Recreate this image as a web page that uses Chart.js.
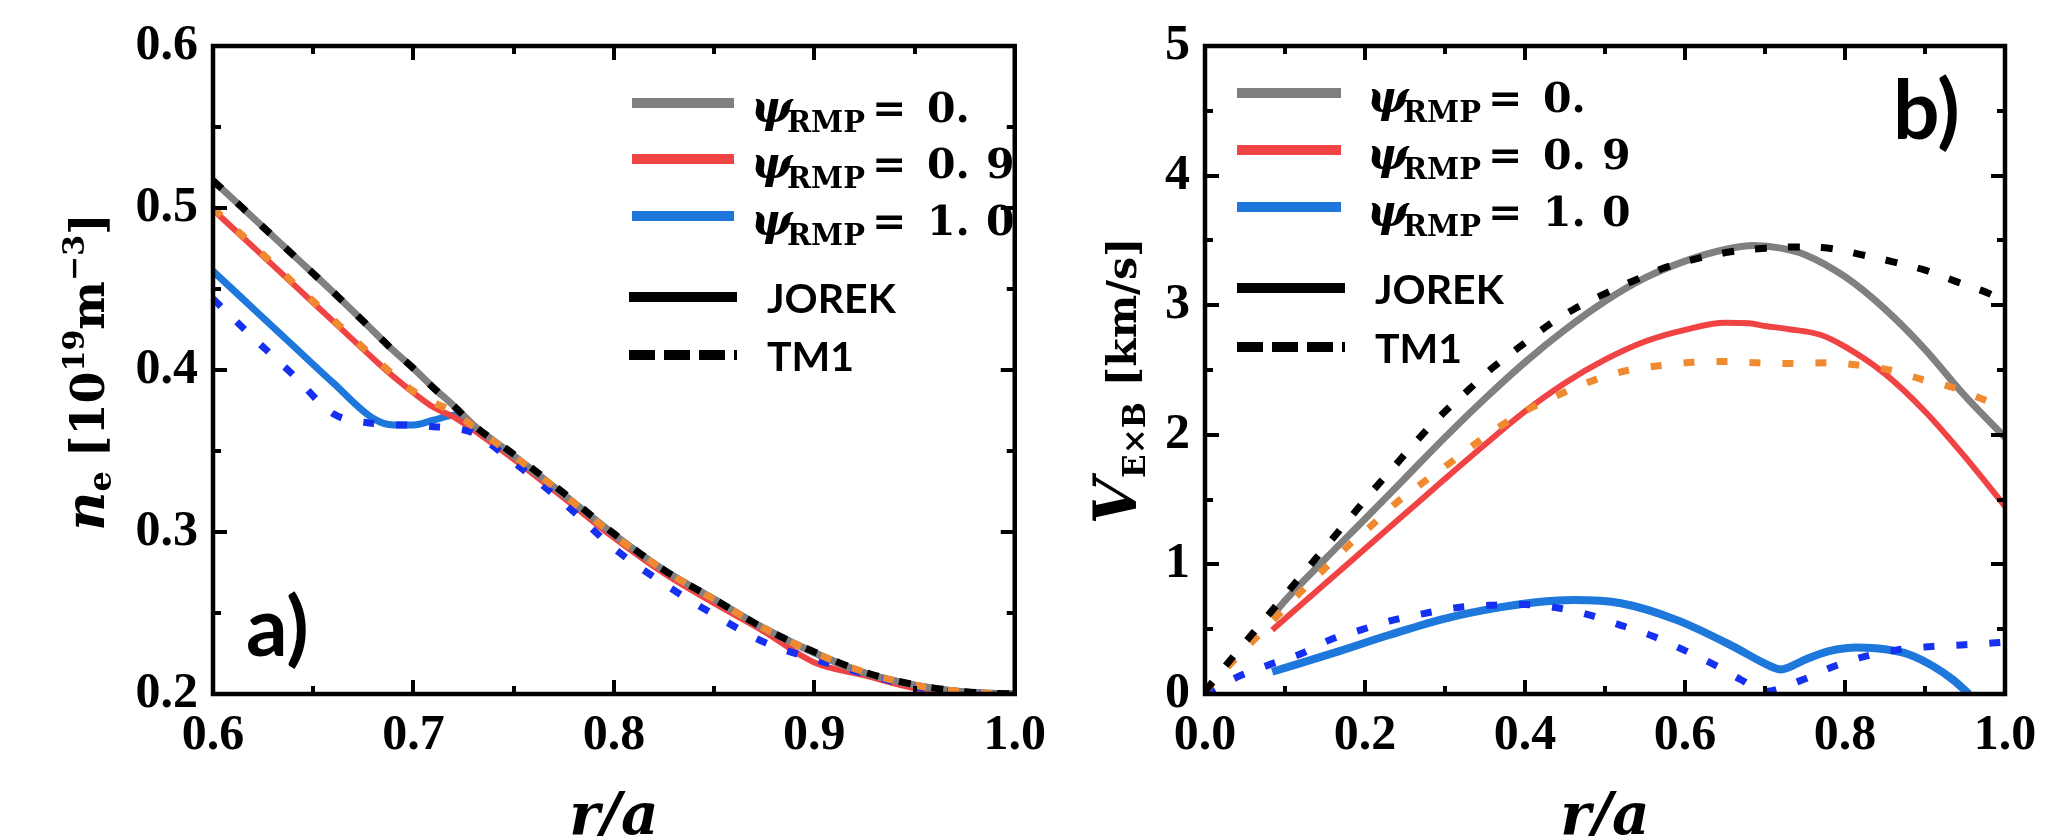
<!DOCTYPE html>
<html>
<head>
<meta charset="utf-8">
<script src="https://cdn.jsdelivr.net/npm/chart.js@4.4.1/dist/chart.umd.min.js"></script>
<style>
  html, body { margin: 0; padding: 0; background: #fff; }
  #wrap { position: relative; width: 2061px; height: 836px; overflow: hidden; background: #fff; }
  canvas { position: absolute; top: 0; }
  #cA { left: 0; width: 1050px; height: 836px; }
  #cB { left: 1050px; width: 1011px; height: 836px; }
</style>
</head>
<body>
<div id="wrap">
  <canvas id="cA" width="1050" height="836"></canvas>
  <canvas id="cB" width="1011" height="836"></canvas>
</div>
<script>
// ---------- panel a: electron density n_e vs r/a ----------
const NE_R = [0.60, 0.62, 0.64, 0.66, 0.68, 0.69, 0.70, 0.71, 0.72, 0.73, 0.75, 0.775, 0.80, 0.825, 0.85, 0.875, 0.90, 0.925, 0.95, 0.975, 1.00];
const NE_JOREK_PSI0  = [0.517, 0.494, 0.471, 0.448, 0.424, 0.412, 0.401, 0.389, 0.378, 0.366, 0.347, 0.323, 0.2985, 0.2765, 0.2585, 0.2405, 0.2255, 0.2130, 0.2055, 0.2012, 0.2000];
const NE_JOREK_PSI09 = [0.499, 0.476, 0.453, 0.430, 0.407, 0.396, 0.386, 0.377, 0.371, 0.363, 0.345, 0.321, 0.2965, 0.2745, 0.2560, 0.2385, 0.2195, 0.2115, 0.2035, 0.1995, 0.1990];
const NE_JOREK_PSI10 = [0.461, 0.438, 0.415, 0.392, 0.370, 0.366, 0.366, 0.369, 0.372, 0.365, 0.347, 0.323, 0.2985, 0.2765, 0.2585, 0.2405, 0.2255, 0.2130, 0.2055, 0.2012, 0.2000];
const NE_TM1_PSI0    = [0.517, 0.494, 0.471, 0.448, 0.424, 0.412, 0.401, 0.389, 0.378, 0.366, 0.348, 0.324, 0.2990, 0.2765, 0.2585, 0.2405, 0.2260, 0.2135, 0.2058, 0.2014, 0.2000];
const NE_TM1_PSI09   = [0.500, 0.477, 0.454, 0.431, 0.408, 0.397, 0.387, 0.380, 0.374, 0.365, 0.347, 0.323, 0.2980, 0.2765, 0.2585, 0.2405, 0.2255, 0.2135, 0.2055, 0.2012, 0.2000];
const NE_TM1_PSI10   = [0.444, 0.420, 0.397, 0.373, 0.367, 0.366, 0.366, 0.365, 0.364, 0.361, 0.343, 0.318, 0.2900, 0.2680, 0.2490, 0.2320, 0.2215, 0.2125, 0.2045, 0.2005, 0.2000];

// ---------- panel b: E x B velocity vs r/a ----------
const VB_R_JOREK_PSI0  = [0.084, 0.10, 0.15, 0.20, 0.25, 0.30, 0.35, 0.40, 0.45, 0.50, 0.55, 0.60, 0.65, 0.686, 0.72, 0.75, 0.80, 0.85, 0.90, 0.95, 1.00];
const VB_JOREK_PSI0    = [0.60, 0.72, 1.04, 1.35, 1.665, 1.98, 2.28, 2.56, 2.81, 3.03, 3.21, 3.34, 3.43, 3.46, 3.44, 3.39, 3.22, 2.97, 2.66, 2.30, 1.98];
const VB_R_JOREK_PSI09 = [0.084, 0.15, 0.20, 0.25, 0.30, 0.35, 0.40, 0.45, 0.50, 0.55, 0.60, 0.65, 0.68, 0.70, 0.73, 0.77, 0.80, 0.85, 0.90, 0.95, 1.00];
const VB_JOREK_PSI09   = [0.494, 0.85, 1.12, 1.39, 1.66, 1.925, 2.18, 2.40, 2.58, 2.72, 2.81, 2.865, 2.86, 2.84, 2.815, 2.77, 2.68, 2.47, 2.18, 1.83, 1.45];
const VB_R_JOREK_PSI10 = [0.084, 0.16, 0.23, 0.30, 0.37, 0.42, 0.46, 0.52, 0.59, 0.66, 0.70, 0.72, 0.75, 0.78, 0.815, 0.85, 0.88, 0.91, 0.935, 0.955];
const VB_JOREK_PSI10   = [0.172, 0.315, 0.455, 0.582, 0.670, 0.712, 0.725, 0.700, 0.570, 0.368, 0.235, 0.190, 0.265, 0.330, 0.358, 0.345, 0.305, 0.215, 0.110, 0.0];
const VB_R_TM1_PSI0    = [0.0, 0.03, 0.06, 0.09, 0.12, 0.15, 0.18, 0.21, 0.24, 0.27, 0.30, 0.33, 0.36, 0.40, 0.43, 0.46, 0.50, 0.54, 0.575, 0.615, 0.655, 0.70, 0.74, 0.78, 0.82, 0.86, 0.90, 0.94, 0.98, 1.00];
const VB_TM1_PSI0      = [0.02, 0.25, 0.47, 0.69, 0.91, 1.13, 1.35, 1.57, 1.78, 1.99, 2.18, 2.35, 2.52, 2.71, 2.85, 2.965, 3.09, 3.20, 3.29, 3.36, 3.41, 3.44, 3.45, 3.44, 3.39, 3.335, 3.27, 3.18, 3.09, 3.03];
const VB_R_TM1_PSI09   = [0.0, 0.03, 0.06, 0.09, 0.12, 0.15, 0.18, 0.21, 0.24, 0.27, 0.31, 0.34, 0.37, 0.41, 0.45, 0.49, 0.53, 0.57, 0.61, 0.65, 0.69, 0.73, 0.78, 0.82, 0.855, 0.895, 0.935, 0.97, 0.99];
const VB_TM1_PSI09     = [0.02, 0.22, 0.41, 0.60, 0.79, 0.97, 1.15, 1.31, 1.48, 1.62, 1.80, 1.94, 2.07, 2.215, 2.33, 2.43, 2.50, 2.535, 2.56, 2.565, 2.555, 2.55, 2.556, 2.535, 2.50, 2.43, 2.365, 2.28, 2.23];
const VB_R_TM1_PSI10   = [0.0, 0.04, 0.08, 0.12, 0.155, 0.195, 0.235, 0.277, 0.317, 0.36, 0.40, 0.44, 0.48, 0.52, 0.56, 0.60, 0.64, 0.67, 0.70, 0.745, 0.785, 0.825, 0.865, 0.905, 0.95, 1.0];
const VB_TM1_PSI10     = [0.0, 0.13, 0.225, 0.31, 0.415, 0.495, 0.57, 0.625, 0.668, 0.685, 0.69, 0.665, 0.61, 0.53, 0.445, 0.335, 0.215, 0.11, 0.02, 0.105, 0.21, 0.29, 0.34, 0.365, 0.38, 0.40];

// legend texts
const PSI_VALUES = ['0.', '0.9', '1.0'];
const CODE_NAMES = ['JOREK', 'TM1'];

// ---------- styles ----------
const C_GRAY = '#808080', C_RED = '#F04444', C_BLUE = '#1E78DC';
const C_ORANGE = '#F08A30', C_DBLUE = '#1530F0', C_BLACK = '#000000';
const SERIF_TICK = 'Liberation Serif';
const SERIF_MATH = 'DejaVu Serif';

const pts = (xs, ys) => xs.map((x, i) => ({ x, y: ys[i] }));

function solid(data, color, w) {
  return { data, borderColor: color, borderWidth: w, pointRadius: 0, fill: false,
           cubicInterpolationMode: 'monotone', order: 2 };
}
function dashed(data, color, w, dash) {
  return { data, borderColor: color, borderWidth: w, pointRadius: 0, fill: false,
           borderDash: dash, borderCapStyle: 'butt', cubicInterpolationMode: 'monotone', order: 1 };
}

// text pieces and placements of each panel (canvas coordinates)
const PANEL_TEXT = {
  cA: {
    tag: 'a)', tagX: 246, tagY: 656,
    legend: { rows: [103, 159, 216, 297, 355], colors: [C_GRAY, C_RED, C_BLUE],
              x0: 632, x1: 734, tx: 751, cx0: 629, cx1: 737, cTextX: 767 },
    xTitleY: 834,
    yTitleX: 104, yTitleCY: 372,
    yTitle: [
      { t: 'n', font: `italic bold 54px "${SERIF_MATH}"` },
      { t: 'e', font: `bold 32px "${SERIF_MATH}"`, dy: 7 },
      { t: '[10', font: `bold 46px "${SERIF_MATH}"`, gap: 14 },
      { t: '19', font: `bold 30px "${SERIF_MATH}"`, dy: -20 },
      { t: 'm', font: `bold 46px "${SERIF_MATH}"` },
      { t: '−3', font: `bold 30px "${SERIF_MATH}"`, dy: -20 },
      { t: ']', font: `bold 46px "${SERIF_MATH}"` }
    ]
  },
  cB: {
    tag: 'b)', tagX: 843, tagY: 139,
    legend: { rows: [93, 150, 207, 288, 347], colors: [C_GRAY, C_RED, C_BLUE],
              x0: 187, x1: 291, tx: 317, cx0: 187, cx1: 295, cTextX: 325 },
    xTitleY: 834,
    yTitleX: 86, yTitleCY: 381,
    yTitle: [
      { t: 'V', font: `italic bold 60px "${SERIF_MATH}"` },
      { t: 'E×B', font: `bold 31px "${SERIF_MATH}"`, dy: 9 },
      { t: '[km/s]', font: `bold 41px "${SERIF_MATH}"`, gap: 16 }
    ]
  }
};

// draws text segments one after another (or at fixed offsets)
function drawSegs(ctx, x, y, segs) {
  let cx = x;
  for (const s of segs) {
    ctx.font = s.font;
    if (s.gap) cx += s.gap;
    const px = (s.at != null) ? x + s.at : cx;
    ctx.fillText(s.t, px, y + (s.dy || 0));
    cx = px + ctx.measureText(s.t).width;
  }
}
function segsWidth(ctx, segs) {
  let w = 0;
  for (const s of segs) { ctx.font = s.font; w += (s.gap || 0) + ctx.measureText(s.t).width; }
  return w;
}

const decor = {
  id: 'decor',
  afterDatasetsDraw(chart) {
    const { ctx, chartArea: a, scales } = chart;
    ctx.save();
    ctx.strokeStyle = '#000';
    ctx.lineCap = 'butt';
    ctx.setLineDash([]);
    // inward ticks on all four sides
    ctx.lineWidth = 4;
    const mark = (scale, horiz) => {
      const major = scale.ticks.map(t => t.value);
      const minor = [];
      for (let i = 0; i < major.length - 1; i++) minor.push((major[i] + major[i + 1]) / 2);
      const list = major.map(v => [v, 14]).concat(minor.map(v => [v, 8]));
      ctx.beginPath();
      for (const [v, len] of list) {
        const p = Math.round(scale.getPixelForValue(v));
        if (horiz) {
          ctx.moveTo(p, a.bottom); ctx.lineTo(p, a.bottom - len);
          ctx.moveTo(p, a.top);    ctx.lineTo(p, a.top + len);
        } else {
          ctx.moveTo(a.left, p);  ctx.lineTo(a.left + len, p);
          ctx.moveTo(a.right, p); ctx.lineTo(a.right - len, p);
        }
      }
      ctx.stroke();
    };
    mark(scales.x, true);
    mark(scales.y, false);
    ctx.lineWidth = 4.5;
    ctx.strokeRect(a.left, a.top, a.right - a.left, a.bottom - a.top);
    ctx.restore();
  },
  afterDraw(chart) {
    const { ctx, chartArea: a } = chart;
    const o = PANEL_TEXT[chart.canvas.id];
    ctx.save();
    ctx.fillStyle = '#000';
    ctx.textBaseline = 'alphabetic';
    ctx.textAlign = 'left';

    // panel tag
    ctx.font = 'bold 82px Lato';
    ctx.fillText(o.tag, o.tagX, o.tagY);

    // legend
    const L = o.legend;
    PSI_VALUES.forEach((v, i) => {
      const y = L.rows[i];
      ctx.strokeStyle = L.colors[i];
      ctx.lineWidth = 10;
      ctx.setLineDash([]);
      ctx.beginPath(); ctx.moveTo(L.x0, y); ctx.lineTo(L.x1, y); ctx.stroke();
      drawSegs(ctx, L.tx, y + 19, [
        { t: 'ψ', font: `italic bold 44px "${SERIF_MATH}"`, at: 0 },
        { t: 'RMP', font: `bold 29px "${SERIF_MATH}"`, at: 36, dy: 10 },
        { t: '=', font: `bold 41px "${SERIF_MATH}"`, at: 121 },
        { t: v.slice(0, 2), font: `bold 41px "${SERIF_MATH}"`, at: 176 },
        { t: v.slice(2), font: `bold 41px "${SERIF_MATH}"`, at: 235 }
      ]);
    });
    CODE_NAMES.forEach((name, i) => {
      const y = L.rows[3 + i];
      ctx.strokeStyle = '#000';
      ctx.lineWidth = 10;
      ctx.setLineDash(i === 0 ? [] : [26, 9]);
      ctx.beginPath(); ctx.moveTo(L.cx0, y); ctx.lineTo(L.cx1, y); ctx.stroke();
      ctx.setLineDash([]);
      ctx.font = 'bold 41px Lato';
      ctx.fillText(name, L.cTextX, y + 16);
    });

    // x title
    ctx.font = `italic bold 58px "${SERIF_MATH}"`;
    const xt = 'r/a';
    const xw = ctx.measureText(xt).width;
    ctx.fillText(xt, (a.left + a.right) / 2 - xw / 2, o.xTitleY);

    // y title, rotated
    const w = segsWidth(ctx, o.yTitle);
    ctx.translate(o.yTitleX, o.yTitleCY);
    ctx.rotate(-Math.PI / 2);
    drawSegs(ctx, -w / 2, 0, o.yTitle);
    ctx.restore();
  }
};

function axisTicks(fmt, step, pad) {
  return {
    stepSize: step,
    autoSkip: false,
    maxRotation: 0,
    padding: pad,
    color: '#000',
    font: { family: SERIF_TICK, weight: 'bold', size: 50 },
    callback: v => fmt(v)
  };
}

function makeChart(id, datasets, xr, yr, yAxisWidth, padRight) {
  return new Chart(document.getElementById(id), {
    type: 'line',
    data: { datasets },
    options: {
      responsive: false, animation: false, devicePixelRatio: 1,
      layout: { padding: { left: 0, right: padRight, top: 46, bottom: 0 } },
      plugins: { legend: { display: false }, tooltip: { enabled: false } },
      scales: {
        x: { type: 'linear', min: xr.min, max: xr.max,
             afterFit: s => { s.height = 142; },
             grid: { display: false }, border: { display: false },
             ticks: axisTicks(xr.fmt, xr.step, 4) },
        y: { type: 'linear', min: yr.min, max: yr.max,
             afterFit: s => { s.width = yAxisWidth; },
             grid: { display: false }, border: { display: false },
             ticks: axisTicks(yr.fmt, yr.step, 7) }
      }
    },
    plugins: [decor]
  });
}

const one = v => v.toFixed(1);
const whole = v => String(Math.round(v));

// ---------- chart a ----------
makeChart('cA', [
  solid(pts(NE_R, NE_JOREK_PSI0), C_GRAY, 7),
  solid(pts(NE_R, NE_JOREK_PSI09), C_RED, 6),
  solid(pts(NE_R, NE_JOREK_PSI10), C_BLUE, 7),
  dashed(pts(NE_R, NE_TM1_PSI0), C_BLACK, 7, [12, 21]),
  dashed(pts(NE_R, NE_TM1_PSI09), C_ORANGE, 7, [11, 22]),
  dashed(pts(NE_R, NE_TM1_PSI10), C_DBLUE, 7, [11, 22])
], { min: 0.6, max: 1.0, step: 0.1, fmt: one },
   { min: 0.2, max: 0.6, step: 0.1, fmt: one }, 213, 35);

// ---------- chart b ----------
makeChart('cB', [
  solid(pts(VB_R_JOREK_PSI0, VB_JOREK_PSI0), C_GRAY, 7),
  solid(pts(VB_R_JOREK_PSI09, VB_JOREK_PSI09), C_RED, 6),
  solid(pts(VB_R_JOREK_PSI10, VB_JOREK_PSI10), C_BLUE, 8),
  dashed(pts(VB_R_TM1_PSI0, VB_TM1_PSI0), C_BLACK, 7, [12, 21]),
  dashed(pts(VB_R_TM1_PSI09, VB_TM1_PSI09), C_ORANGE, 7, [11, 22]),
  dashed(pts(VB_R_TM1_PSI10, VB_TM1_PSI10), C_DBLUE, 7, [11, 22])
], { min: 0, max: 1.0, step: 0.2, fmt: one },
   { min: 0, max: 5, step: 1, fmt: whole }, 155, 56);
</script>
</body>
</html>
